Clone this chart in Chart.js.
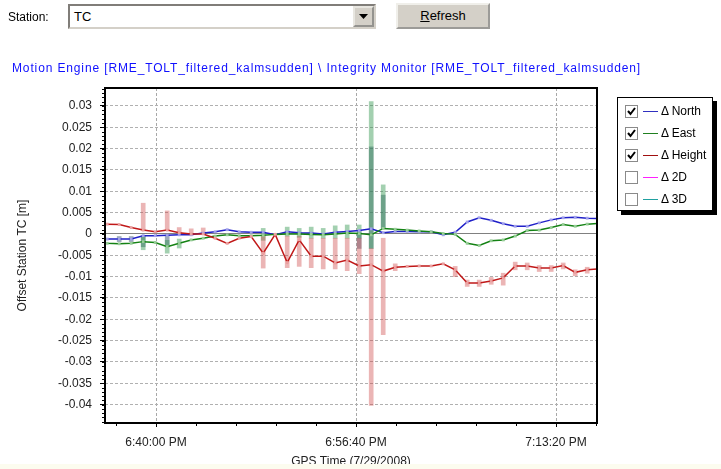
<!DOCTYPE html>
<html><head><meta charset="utf-8">
<script src="https://cdn.jsdelivr.net/npm/chart.js@4.4.0/dist/chart.umd.min.js"></script>
<style>
html,body{margin:0;padding:0;background:#fff;width:721px;height:469px;overflow:hidden;font-family:"Liberation Sans",Arial,sans-serif;}
#wrap{position:relative;width:721px;height:469px;}
#c{position:absolute;left:0;top:0;}
.abs{position:absolute;}
#station{left:8px;top:10px;font-size:12px;color:#000;}
#combo{left:68px;top:4px;width:300px;height:21px;border:2px inset #d4d0c8;background:#fff;font-size:13px;line-height:21px;padding-left:4px;box-sizing:content-box;}
#dd{position:absolute;right:0;top:0;width:17px;height:17px;background:#d4d0c8;border:2px outset #e8e6e0;box-sizing:content-box;}
#dd svg{position:absolute;left:4px;top:6px;}
#refresh{left:396px;top:3px;width:90px;height:22px;background:#d4d0c8;border:2px outset #f0efea;font-size:13px;line-height:22px;text-align:center;box-sizing:content-box;}
#title{left:12px;top:61px;font-size:12px;color:#1010ff;white-space:nowrap;}
#legend{left:617px;top:97px;width:94px;height:112px;border:1px solid #000;background:#fff;box-shadow:4px 4px 0 #000;}
.row{position:absolute;left:0;height:14px;width:94px;}
.cb{position:absolute;left:7px;top:0;width:11px;height:11px;border:1px solid #8a8a8a;background:#fff;}
.cb svg{position:absolute;left:0;top:0;}
.ln{position:absolute;left:25px;top:6px;width:15px;height:1px;}
.tx{position:absolute;left:43px;top:-1px;font-size:12px;color:#000;white-space:nowrap;}
#strip{left:0;top:464px;width:721px;height:5px;background:#fcfcef;}
</style></head><body>
<div id="wrap">
<canvas id="c" width="721" height="469"></canvas>
<div id="station" class="abs">Station:</div>
<div id="combo" class="abs">TC<div id="dd"><svg width="9" height="5"><path d="M0 0 L9 0 L4.5 5 Z" fill="#000"/></svg></div></div>
<div id="refresh" class="abs"><u>R</u>efresh</div>
<div id="title" class="abs">Motion Engine [RME_TOLT_filtered_kalmsudden] \ Integrity Monitor [RME_TOLT_filtered_kalmsudden]</div>
<div id="legend" class="abs"></div>
<div id="strip" class="abs"></div>
</div>
<script>
// ---- data (x = seconds after 6:40:00 PM, y = metres) ----
const times = [-304,-244,-184,-124,-64,-4,56,116,176,236,296,356,416,476,536,596,656,716,776,836,896,956,1016,1076,1136,1196,1256,1316,1376,1436,1496,1556,1616,1676,1736,1796,1856,1916,1976,2036,2096,2156,2216];
const north = [-0.0012,-0.0012,-0.0012,-0.0012,-0.0004,-0.0004,-0.0003,-0.0002,-0.0002,0.0002,0.0005,0.0010,0.0005,0.0004,0.0004,-0.0002,0.0005,0.0003,0.0002,0.0000,0.0004,0.0006,0.0008,0.0012,0.0003,0.0006,0.0006,0.0005,0.0005,-0.0002,0.0004,0.0028,0.0038,0.0032,0.0024,0.0018,0.0018,0.0026,0.0033,0.0038,0.0039,0.0037,0.0036];
const east = [-0.0020,-0.0022,-0.0023,-0.0022,-0.0018,-0.0020,-0.0030,-0.0022,-0.0014,-0.0010,-0.0005,-0.0002,-0.0004,-0.0004,-0.0003,-0.0001,0.0000,0.0000,-0.0001,-0.0002,0.0000,0.0002,0.0001,-0.0002,0.0013,0.0011,0.0009,0.0007,0.0005,0.0001,-0.0001,-0.0022,-0.0027,-0.0016,-0.0014,-0.0005,0.0008,0.0009,0.0015,0.0022,0.0018,0.0023,0.0025];
const heightVals = [0.0024,0.0023,0.0022,0.0015,0.0009,0.0005,0.0009,0.0003,0.0000,0.0000,-0.0010,-0.0022,-0.0010,-0.0006,-0.0045,-0.0001,-0.0067,-0.0014,-0.0052,-0.0052,-0.0068,-0.0061,-0.0075,-0.0072,-0.0087,-0.0078,-0.0076,-0.0075,-0.0075,-0.0070,-0.0084,-0.0115,-0.0115,-0.0110,-0.0103,-0.0075,-0.0075,-0.0080,-0.0080,-0.0074,-0.0090,-0.0084,-0.0082];
// vertical uncertainty bars [low, high] per epoch (null = none)
const heightBars = [null,null,null,null,[0.0009,0.0072],null,[0.0009,0.0054],[0.0003,0.0015],[0.0000,0.0012],[0.0000,0.0014],null,null,null,null,[-0.0080,-0.0005],null,[-0.0079,-0.0005],[-0.0076,-0.0005],[-0.0079,-0.0010],[-0.0082,-0.0010],[-0.0082,-0.0010],[-0.0086,-0.0010],[-0.0093,-0.0010],[-0.0402,-0.0034],[-0.0236,-0.0010],[-0.0086,-0.0070],null,null,null,null,[-0.0100,-0.0076],[-0.0123,-0.0108],[-0.0123,-0.0108],[-0.0118,-0.0102],[-0.0120,-0.0092],[-0.0084,-0.0066],[-0.0084,-0.0068],[-0.0088,-0.0074],[-0.0088,-0.0074],[-0.0082,-0.0068],[-0.0098,-0.0084],[-0.0092,-0.0078],null];
const eastBars = [null,null,null,null,[-0.0037,-0.0005],null,[-0.0045,-0.0015],[-0.0033,-0.0012],null,null,null,null,null,null,[-0.0015,0.0013],null,[-0.0005,0.0016],[-0.0008,0.0013],[-0.0010,0.0016],[-0.0010,0.0013],[-0.0010,0.0019],[-0.0010,0.0021],[-0.0010,0.0021],[-0.0034,0.0310],[0.0013,0.0115],null,null,null,null,null,null,null,null,null,null,null,null,null,null,null,null,null,null];
const northBars = [null,null,[-0.0018,-0.0006],[-0.0018,-0.0006],[-0.0030,-0.0004],null,[-0.0026,-0.0002],null,null,null,null,null,null,null,null,null,null,null,null,null,null,null,[-0.0034,0.0005],[-0.0034,0.0204],[0.0013,0.0091],null,null,null,null,null,null,null,null,null,null,null,null,null,null,null,null,null,null];
// axis ticks
const xTickValues = [0, 1000, 2000];
const xTickLabels = ['6:40:00 PM', '6:56:40 PM', '7:13:20 PM'];
const yTickValues = [0.03,0.025,0.02,0.015,0.01,0.005,0,-0.005,-0.01,-0.015,-0.02,-0.025,-0.03,-0.035,-0.04];
const yTickLabels = ['0.03','0.025','0.02','0.015','0.01','0.005','0','-0.005','-0.01','-0.015','-0.02','-0.025','-0.03','-0.035','-0.04'];
const legendNames = ['\u0394 North','\u0394 East','\u0394 Height','\u0394 2D','\u0394 3D'];
const legendColors = ['#3030c0','#208020','#a01010','#ff20ff','#20a0a0'];
const legendChecked = [true, true, true, false, false];

// ---- legend (HTML) ----
const lg = document.getElementById('legend');
legendNames.forEach((n, i) => {
  const r = document.createElement('div');
  r.className = 'row';
  r.style.top = (7 + i * 22) + 'px';
  r.innerHTML = '<span class="cb">' + (legendChecked[i] ? '<svg width="11" height="11"><path d="M2 5 L4.5 8 L9 2" stroke="#000" stroke-width="2" fill="none"/></svg>' : '') +
    '</span><span class="ln" style="background:' + legendColors[i] + '"></span><span class="tx">' + n + '</span>';
  lg.appendChild(r);
});
// fit title width to the reference
const tt = document.getElementById('title');
const tw = tt.getBoundingClientRect().width;
tt.style.letterSpacing = ((629 - tw) / tt.textContent.length) + 'px';

function pts(v) { return times.map((t, i) => ({x: t, y: v[i]})); }
function bars(b) { const o = []; times.forEach((t, i) => { if (b[i]) o.push({x: t, y: b[i]}); }); return o; }

const ticksPlugin = {
  id: 'frameTicks',
  afterDraw(chart) {
    const {ctx, chartArea: a, scales: {x, y}} = chart;
    ctx.save();
    ctx.strokeStyle = '#000';
    ctx.lineWidth = 1;
    ctx.beginPath();
    for (let v = -0.044; v <= 0.0345; v += 0.001) {
      const py = Math.round(y.getPixelForValue(v)) + 0.5;
      ctx.moveTo(a.left - 3, py); ctx.lineTo(a.left, py);
    }
    for (let v = -200; v <= 2200; v += 200) {
      const px = Math.round(x.getPixelForValue(v)) + 0.5;
      ctx.moveTo(px, a.bottom); ctx.lineTo(px, a.bottom + 3);
    }
    ctx.stroke();
    ctx.lineWidth = 2;
    ctx.strokeRect(a.left, a.top, a.right - a.left, a.bottom - a.top);
    ctx.restore();
  }
};

const font = {family: '"Liberation Sans", Arial, sans-serif', size: 12};
const lineDs = (label, vals, col, ptCol) => ({
  type: 'line', label, data: pts(vals), borderColor: col, borderWidth: 1.5, tension: 0,
  pointStyle: 'rect', pointRadius: 2, pointBackgroundColor: ptCol, pointBorderWidth: 0, fill: false, order: 1
});
const barDs = (b, col) => ({type: 'bar', data: bars(b), backgroundColor: col, barThickness: 4, grouped: false, order: 3});

new Chart(document.getElementById('c'), {
  type: 'line',
  data: {datasets: [
    barDs(heightBars, 'rgba(205,70,70,0.40)'),
    barDs(eastBars, 'rgba(50,150,80,0.45)'),
    barDs(northBars, 'rgba(40,70,100,0.45)'),
    lineDs('\u0394 Height', heightVals, '#c01818', 'rgba(235,160,160,1)'),
    lineDs('\u0394 East', east, '#148214', 'rgba(150,205,150,1)'),
    lineDs('\u0394 North', north, '#2020c8', 'rgba(160,160,235,1)')
  ]},
  options: {
    responsive: false, animation: false, devicePixelRatio: 1,
    layout: {padding: {top: 88, right: 124, left: 0, bottom: 0}},
    plugins: {legend: {display: false}, tooltip: {enabled: false}, title: {display: false}},
    scales: {
      x: {
        type: 'linear', min: -255, max: 2205, offset: false,
        afterBuildTicks: s => { s.ticks = xTickValues.map(v => ({value: v})); },
        afterFit: s => { s.height = 46; },
        ticks: {callback: v => xTickLabels[xTickValues.indexOf(v)], color: '#222', font, padding: 8, maxRotation: 0, autoSkip: false},
        grid: {offset: false, color: '#a8a8a8', tickColor: '#000', tickLength: 4, lineWidth: 1},
        border: {display: false, dash: [3, 2]},
        title: {display: true, text: 'GPS Time (7/29/2008)', color: '#222', font, padding: {top: 0, bottom: 0}}
      },
      y: {
        type: 'linear', min: -0.0443, max: 0.0342, beginAtZero: false,
        afterBuildTicks: s => { s.ticks = yTickValues.map(v => ({value: v})); },
        afterFit: s => { s.width = 105; },
        ticks: {callback: v => yTickLabels[yTickValues.indexOf(v)], color: '#222', font, padding: 8, autoSkip: false},
        grid: {color: c => (c.tick && c.tick.value === 0) ? '#808080' : '#b0b0b0', tickColor: '#000', tickLength: 5, lineWidth: 1},
        border: {display: false, dash: c => (c.tick && c.tick.value === 0) ? [] : [3, 2]},
        title: {display: true, text: 'Offset Station TC [m]', color: '#222', font, padding: {top: 15, bottom: 0}}
      }
    }
  },
  plugins: [ticksPlugin]
});
</script>
</body></html>
